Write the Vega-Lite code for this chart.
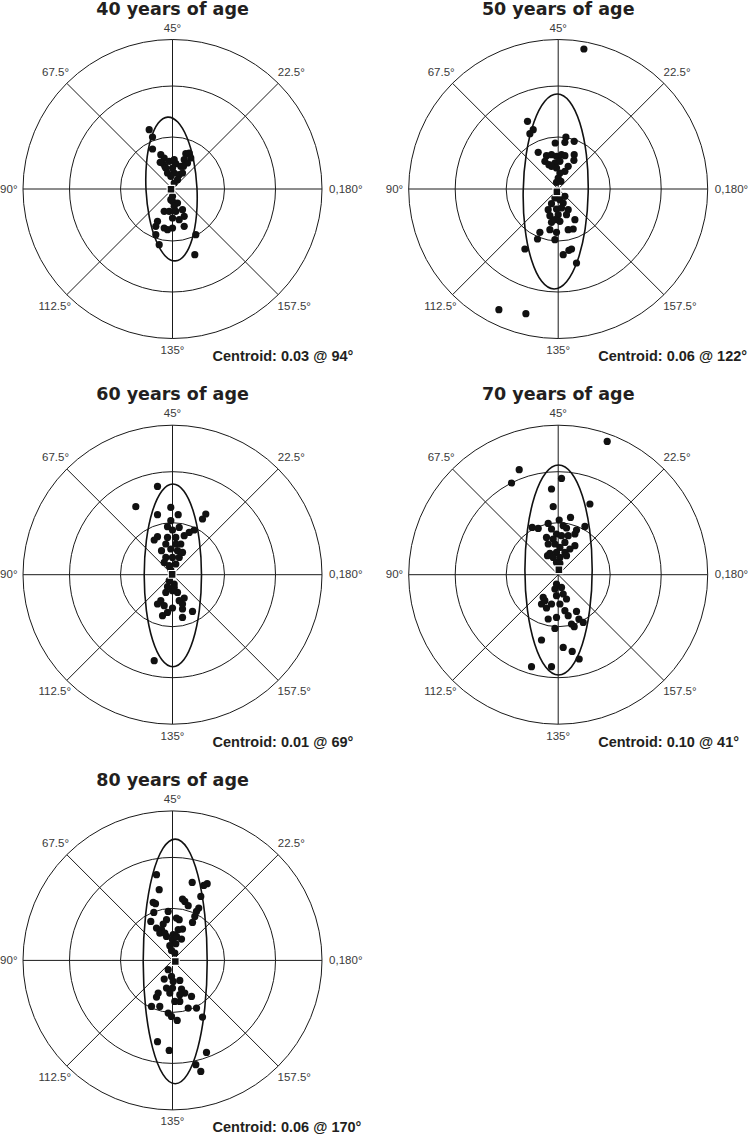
{
"$schema": "https://vega.github.io/schema/vega-lite/v6.json",
"padding": 0,
"background": "white",
"config": {"view": {"stroke": null}},
"bounds": "flush",
"spacing": {"row": 21.7, "column": 22.7},
"data": {"values": [
{"p":1,"k":"r","r":52},{"p":1,"k":"r","r":103},{"p":1,"k":"r","r":149.5},
{"p":2,"k":"r","r":52},{"p":2,"k":"r","r":103},{"p":2,"k":"r","r":149.5},
{"p":3,"k":"r","r":52},{"p":3,"k":"r","r":103},{"p":3,"k":"r","r":149.5},
{"p":4,"k":"r","r":52},{"p":4,"k":"r","r":103},{"p":4,"k":"r","r":149.5},
{"p":5,"k":"r","r":52},{"p":5,"k":"r","r":103},{"p":5,"k":"r","r":149.5},
{"p":1,"k":"s","x":-149.5,"y":0,"x2":149.5,"y2":0},{"p":1,"k":"s","x":0,"y":-149.5,"x2":0,"y2":149.5},{"p":1,"k":"s","x":-105.7,"y":-105.7,"x2":105.7,"y2":105.7},{"p":1,"k":"s","x":-105.7,"y":105.7,"x2":105.7,"y2":-105.7},
{"p":2,"k":"s","x":-149.5,"y":0,"x2":149.5,"y2":0},{"p":2,"k":"s","x":0,"y":-149.5,"x2":0,"y2":149.5},{"p":2,"k":"s","x":-105.7,"y":-105.7,"x2":105.7,"y2":105.7},{"p":2,"k":"s","x":-105.7,"y":105.7,"x2":105.7,"y2":-105.7},
{"p":3,"k":"s","x":-149.5,"y":0,"x2":149.5,"y2":0},{"p":3,"k":"s","x":0,"y":-149.5,"x2":0,"y2":149.5},{"p":3,"k":"s","x":-105.7,"y":-105.7,"x2":105.7,"y2":105.7},{"p":3,"k":"s","x":-105.7,"y":105.7,"x2":105.7,"y2":-105.7},
{"p":4,"k":"s","x":-149.5,"y":0,"x2":149.5,"y2":0},{"p":4,"k":"s","x":0,"y":-149.5,"x2":0,"y2":149.5},{"p":4,"k":"s","x":-105.7,"y":-105.7,"x2":105.7,"y2":105.7},{"p":4,"k":"s","x":-105.7,"y":105.7,"x2":105.7,"y2":-105.7},
{"p":5,"k":"s","x":-149.5,"y":0,"x2":149.5,"y2":0},{"p":5,"k":"s","x":0,"y":-149.5,"x2":0,"y2":149.5},{"p":5,"k":"s","x":-105.7,"y":-105.7,"x2":105.7,"y2":105.7},{"p":5,"k":"s","x":-105.7,"y":105.7,"x2":105.7,"y2":-105.7},
{"p":1,"k":"lc","x":0,"y":157.5,"t":"45°"},{"p":1,"k":"lc","x":0,"y":-165,"t":"135°"},{"p":1,"k":"ll","x":156.6,"y":-3.5,"t":"0,180°"},{"p":1,"k":"ll","x":105.3,"y":113.5,"t":"22.5°"},{"p":1,"k":"ll","x":105,"y":-120.7,"t":"157.5°"},{"p":1,"k":"lr","x":-155,"y":-3.5,"t":"90°"},{"p":1,"k":"lr","x":-103.5,"y":113.5,"t":"67.5°"},{"p":1,"k":"lr","x":-101.5,"y":-120.7,"t":"112.5°"},
{"p":2,"k":"lc","x":0,"y":157.5,"t":"45°"},{"p":2,"k":"lc","x":0,"y":-165,"t":"135°"},{"p":2,"k":"ll","x":156.6,"y":-3.5,"t":"0,180°"},{"p":2,"k":"ll","x":105.3,"y":113.5,"t":"22.5°"},{"p":2,"k":"ll","x":105,"y":-120.7,"t":"157.5°"},{"p":2,"k":"lr","x":-155,"y":-3.5,"t":"90°"},{"p":2,"k":"lr","x":-103.5,"y":113.5,"t":"67.5°"},{"p":2,"k":"lr","x":-101.5,"y":-120.7,"t":"112.5°"},
{"p":3,"k":"lc","x":0,"y":157.5,"t":"45°"},{"p":3,"k":"lc","x":0,"y":-165,"t":"135°"},{"p":3,"k":"ll","x":156.6,"y":-3.5,"t":"0,180°"},{"p":3,"k":"ll","x":105.3,"y":113.5,"t":"22.5°"},{"p":3,"k":"ll","x":105,"y":-120.7,"t":"157.5°"},{"p":3,"k":"lr","x":-155,"y":-3.5,"t":"90°"},{"p":3,"k":"lr","x":-103.5,"y":113.5,"t":"67.5°"},{"p":3,"k":"lr","x":-101.5,"y":-120.7,"t":"112.5°"},
{"p":4,"k":"lc","x":0,"y":157.5,"t":"45°"},{"p":4,"k":"lc","x":0,"y":-165,"t":"135°"},{"p":4,"k":"ll","x":156.6,"y":-3.5,"t":"0,180°"},{"p":4,"k":"ll","x":105.3,"y":113.5,"t":"22.5°"},{"p":4,"k":"ll","x":105,"y":-120.7,"t":"157.5°"},{"p":4,"k":"lr","x":-155,"y":-3.5,"t":"90°"},{"p":4,"k":"lr","x":-103.5,"y":113.5,"t":"67.5°"},{"p":4,"k":"lr","x":-101.5,"y":-120.7,"t":"112.5°"},
{"p":5,"k":"lc","x":0,"y":157.5,"t":"45°"},{"p":5,"k":"lc","x":0,"y":-165,"t":"135°"},{"p":5,"k":"ll","x":156.6,"y":-3.5,"t":"0,180°"},{"p":5,"k":"ll","x":105.3,"y":113.5,"t":"22.5°"},{"p":5,"k":"ll","x":105,"y":-120.7,"t":"157.5°"},{"p":5,"k":"lr","x":-155,"y":-3.5,"t":"90°"},{"p":5,"k":"lr","x":-103.5,"y":113.5,"t":"67.5°"},{"p":5,"k":"lr","x":-101.5,"y":-120.7,"t":"112.5°"},
{"p":1,"k":"t","x":0,"y":174.3,"t":"40 years of age"},{"p":2,"k":"t","x":0,"y":174.3,"t":"50 years of age"},{"p":3,"k":"t","x":0,"y":174.3,"t":"60 years of age"},{"p":4,"k":"t","x":0,"y":174.3,"t":"70 years of age"},{"p":5,"k":"t","x":0,"y":174.3,"t":"80 years of age"},
{"p":1,"k":"c","x":40,"y":-172,"t":"Centroid: 0.03 @ 94°"},{"p":2,"k":"c","x":40,"y":-172,"t":"Centroid: 0.06 @ 122°"},{"p":3,"k":"c","x":40,"y":-172,"t":"Centroid: 0.01 @ 69°"},{"p":4,"k":"c","x":40,"y":-172,"t":"Centroid: 0.10 @ 41°"},{"p":5,"k":"c","x":40,"y":-172,"t":"Centroid: 0.06 @ 170°"},
{"p":1,"k":"m","x":-1.49,"y":-0.21},{"p":2,"k":"m","x":-1.31,"y":-2.7},{"p":3,"k":"m","x":-0.37,"y":0.33},{"p":4,"k":"m","x":0.7,"y":4.95},{"p":5,"k":"m","x":2.82,"y":-1.03},
{"p":1,"k":"e","o":0,"x":24.46,"y":1.33},{"p":1,"k":"e","o":1,"x":21.08,"y":28.75},{"p":1,"k":"e","o":2,"x":14.33,"y":51.78},{"p":1,"k":"e","o":3,"x":5.26,"y":66.94},{"p":1,"k":"e","o":4,"x":-4.77,"y":71.9},{"p":1,"k":"e","o":5,"x":-14.22,"y":65.92},{"p":1,"k":"e","o":6,"x":-21.67,"y":49.9},{"p":1,"k":"e","o":7,"x":-25.96,"y":26.29},{"p":1,"k":"e","o":8,"x":-26.46,"y":-1.33},{"p":1,"k":"e","o":9,"x":-23.08,"y":-28.75},{"p":1,"k":"e","o":10,"x":-16.33,"y":-51.78},{"p":1,"k":"e","o":11,"x":-7.26,"y":-66.94},{"p":1,"k":"e","o":12,"x":2.77,"y":-71.9},{"p":1,"k":"e","o":13,"x":12.22,"y":-65.92},{"p":1,"k":"e","o":14,"x":19.67,"y":-49.9},{"p":1,"k":"e","o":15,"x":23.96,"y":-26.29},
{"p":2,"k":"e","o":0,"x":30,"y":-3.07},{"p":2,"k":"e","o":1,"x":28.18,"y":34.28},{"p":2,"k":"e","o":2,"x":21.68,"y":66.04},{"p":2,"k":"e","o":3,"x":11.51,"y":87.36},{"p":2,"k":"e","o":4,"x":-0.8,"y":95},{"p":2,"k":"e","o":5,"x":-13.37,"y":87.8},{"p":2,"k":"e","o":6,"x":-24.28,"y":66.84},{"p":2,"k":"e","o":7,"x":-31.88,"y":35.34},{"p":2,"k":"e","o":8,"x":-35,"y":-1.93},{"p":2,"k":"e","o":9,"x":-33.18,"y":-39.28},{"p":2,"k":"e","o":10,"x":-26.68,"y":-71.04},{"p":2,"k":"e","o":11,"x":-16.51,"y":-92.36},{"p":2,"k":"e","o":12,"x":-4.2,"y":-100},{"p":2,"k":"e","o":13,"x":8.37,"y":-92.8},{"p":2,"k":"e","o":14,"x":19.28,"y":-71.84},{"p":2,"k":"e","o":15,"x":26.88,"y":-40.34},
{"p":3,"k":"e","o":0,"x":29,"y":-0.65},{"p":3,"k":"e","o":1,"x":26.82,"y":34.31},{"p":3,"k":"e","o":2,"x":20.61,"y":63.94},{"p":3,"k":"e","o":3,"x":11.31,"y":83.75},{"p":3,"k":"e","o":4,"x":0.35,"y":90.7},{"p":3,"k":"e","o":5,"x":-10.61,"y":83.75},{"p":3,"k":"e","o":6,"x":-19.91,"y":63.94},{"p":3,"k":"e","o":7,"x":-26.12,"y":34.31},{"p":3,"k":"e","o":8,"x":-28.3,"y":-0.65},{"p":3,"k":"e","o":9,"x":-26.12,"y":-35.61},{"p":3,"k":"e","o":10,"x":-19.91,"y":-65.24},{"p":3,"k":"e","o":11,"x":-10.61,"y":-85.05},{"p":3,"k":"e","o":12,"x":0.35,"y":-92},{"p":3,"k":"e","o":13,"x":11.31,"y":-85.05},{"p":3,"k":"e","o":14,"x":20.61,"y":-65.24},{"p":3,"k":"e","o":15,"x":26.82,"y":-35.61},
{"p":4,"k":"e","o":0,"x":34,"y":4.7},{"p":4,"k":"e","o":1,"x":31.44,"y":44.88},{"p":4,"k":"e","o":2,"x":24.14,"y":78.95},{"p":4,"k":"e","o":3,"x":13.23,"y":101.71},{"p":4,"k":"e","o":4,"x":0.35,"y":109.7},{"p":4,"k":"e","o":5,"x":-12.53,"y":101.71},{"p":4,"k":"e","o":6,"x":-23.44,"y":78.95},{"p":4,"k":"e","o":7,"x":-30.74,"y":44.88},{"p":4,"k":"e","o":8,"x":-33.3,"y":4.7},{"p":4,"k":"e","o":9,"x":-30.74,"y":-35.48},{"p":4,"k":"e","o":10,"x":-23.44,"y":-69.55},{"p":4,"k":"e","o":11,"x":-12.53,"y":-92.31},{"p":4,"k":"e","o":12,"x":0.35,"y":-100.3},{"p":4,"k":"e","o":13,"x":13.23,"y":-92.31},{"p":4,"k":"e","o":14,"x":24.14,"y":-69.55},{"p":4,"k":"e","o":15,"x":31.44,"y":-35.48},
{"p":5,"k":"e","o":0,"x":34.7,"y":-1},{"p":5,"k":"e","o":1,"x":32.26,"y":45.8},{"p":5,"k":"e","o":2,"x":25.33,"y":85.48},{"p":5,"k":"e","o":3,"x":14.95,"y":111.99},{"p":5,"k":"e","o":4,"x":2.7,"y":121.3},{"p":5,"k":"e","o":5,"x":-9.55,"y":111.99},{"p":5,"k":"e","o":6,"x":-19.93,"y":85.48},{"p":5,"k":"e","o":7,"x":-26.86,"y":45.8},{"p":5,"k":"e","o":8,"x":-29.3,"y":-1},{"p":5,"k":"e","o":9,"x":-26.86,"y":-47.8},{"p":5,"k":"e","o":10,"x":-19.93,"y":-87.48},{"p":5,"k":"e","o":11,"x":-9.55,"y":-113.99},{"p":5,"k":"e","o":12,"x":2.7,"y":-123.3},{"p":5,"k":"e","o":13,"x":14.95,"y":-113.99},{"p":5,"k":"e","o":14,"x":25.33,"y":-87.48},{"p":5,"k":"e","o":15,"x":32.26,"y":-47.8},
{"p":1,"k":"d","x":-23.3,"y":59.3},{"p":1,"k":"d","x":-20,"y":52},{"p":1,"k":"d","x":-20,"y":40},{"p":1,"k":"d","x":-11.7,"y":34.3},{"p":1,"k":"d","x":-8.3,"y":31},{"p":1,"k":"d","x":-10,"y":26},{"p":1,"k":"d","x":-7.7,"y":22.7},{"p":1,"k":"d","x":-3.3,"y":27.7},{"p":1,"k":"d","x":1.7,"y":29.3},{"p":1,"k":"d","x":3.3,"y":25.3},{"p":1,"k":"d","x":0,"y":21},{"p":1,"k":"d","x":1.7,"y":16},{"p":1,"k":"d","x":6.7,"y":14.3},{"p":1,"k":"d","x":10,"y":16},{"p":1,"k":"d","x":8.3,"y":22.7},{"p":1,"k":"d","x":11.7,"y":29.3},{"p":1,"k":"d","x":13.3,"y":35.3},{"p":1,"k":"d","x":16.7,"y":36},{"p":1,"k":"d","x":18.3,"y":31},{"p":1,"k":"d","x":15,"y":26},{"p":1,"k":"d","x":11,"y":22.7},{"p":1,"k":"d","x":5,"y":9.3},{"p":1,"k":"d","x":1.7,"y":6},{"p":1,"k":"d","x":-1.7,"y":12.7},{"p":1,"k":"d","x":-6.7,"y":21},{"p":1,"k":"d","x":-5,"y":16},{"p":1,"k":"d","x":-12.3,"y":26.7},
{"p":1,"k":"d","x":0,"y":-7.3},{"p":1,"k":"d","x":-1.7,"y":-10.7},{"p":1,"k":"d","x":0,"y":-12.3},{"p":1,"k":"d","x":5,"y":-14},{"p":1,"k":"d","x":1.7,"y":-17.3},{"p":1,"k":"d","x":-8.3,"y":-22.3},{"p":1,"k":"d","x":-3.3,"y":-22.3},{"p":1,"k":"d","x":3.3,"y":-22.3},{"p":1,"k":"d","x":10,"y":-20.7},{"p":1,"k":"d","x":11.7,"y":-27.3},{"p":1,"k":"d","x":6.7,"y":-30.7},{"p":1,"k":"d","x":0,"y":-29},{"p":1,"k":"d","x":-15,"y":-32.3},{"p":1,"k":"d","x":-16.7,"y":-37.3},{"p":1,"k":"d","x":-8.3,"y":-39},{"p":1,"k":"d","x":-5,"y":-40.7},{"p":1,"k":"d","x":0,"y":-39},{"p":1,"k":"d","x":11.7,"y":-37.3},{"p":1,"k":"d","x":-16.7,"y":-45.7},{"p":1,"k":"d","x":-13.3,"y":-55.7},{"p":1,"k":"d","x":23.3,"y":-45.7},{"p":1,"k":"d","x":22.3,"y":-65.7},
{"p":2,"k":"d","x":25.7,"y":140},{"p":2,"k":"d","x":-30.7,"y":67.7},{"p":2,"k":"d","x":-25,"y":59.3},{"p":2,"k":"d","x":-28.3,"y":55.3},{"p":2,"k":"d","x":7.7,"y":52},{"p":2,"k":"d","x":16,"y":47.7},{"p":2,"k":"d","x":6.7,"y":46.7},{"p":2,"k":"d","x":-3,"y":46},{"p":2,"k":"d","x":-20,"y":36.7},{"p":2,"k":"d","x":-11.7,"y":33.3},{"p":2,"k":"d","x":-6.7,"y":34.3},{"p":2,"k":"d","x":-1.7,"y":32.7},{"p":2,"k":"d","x":3.3,"y":34.3},{"p":2,"k":"d","x":6.7,"y":33.3},{"p":2,"k":"d","x":16,"y":34.3},{"p":2,"k":"d","x":15.7,"y":28.7},{"p":2,"k":"d","x":-13.3,"y":27.7},{"p":2,"k":"d","x":-9.3,"y":24.3},{"p":2,"k":"d","x":-3.3,"y":26},{"p":2,"k":"d","x":1.7,"y":27.7},{"p":2,"k":"d","x":10,"y":22.7},{"p":2,"k":"d","x":6.7,"y":17.7},{"p":2,"k":"d","x":1.7,"y":16},{"p":2,"k":"d","x":-1.7,"y":21},{"p":2,"k":"d","x":0,"y":11},{"p":2,"k":"d","x":-1.7,"y":6.7},{"p":2,"k":"d","x":2.7,"y":7.7},{"p":2,"k":"d","x":-6.7,"y":22.7},
{"p":2,"k":"d","x":-3.3,"y":-9},{"p":2,"k":"d","x":1.7,"y":-10.7},{"p":2,"k":"d","x":5,"y":-14},{"p":2,"k":"d","x":-6.7,"y":-14.7},{"p":2,"k":"d","x":-10,"y":-20.7},{"p":2,"k":"d","x":-1.7,"y":-20},{"p":2,"k":"d","x":3.3,"y":-19},{"p":2,"k":"d","x":10,"y":-20.7},{"p":2,"k":"d","x":-8.3,"y":-26.7},{"p":2,"k":"d","x":0,"y":-25.7},{"p":2,"k":"d","x":8.3,"y":-25.7},{"p":2,"k":"d","x":16.7,"y":-30.7},{"p":2,"k":"d","x":-6.7,"y":-33.3},{"p":2,"k":"d","x":1.7,"y":-32.3},{"p":2,"k":"d","x":-8.3,"y":-40.7},{"p":2,"k":"d","x":-1.7,"y":-43.3},{"p":2,"k":"d","x":-18.3,"y":-43.3},{"p":2,"k":"d","x":10,"y":-40.7},{"p":2,"k":"d","x":15,"y":-40},{"p":2,"k":"d","x":-20.7,"y":-50},{"p":2,"k":"d","x":-3.3,"y":-50.7},{"p":2,"k":"d","x":-33.3,"y":-60},{"p":2,"k":"d","x":5,"y":-65.7},{"p":2,"k":"d","x":10.7,"y":-61.3},{"p":2,"k":"d","x":13.3,"y":-60},{"p":2,"k":"d","x":18.3,"y":-74},{"p":2,"k":"d","x":-59.3,"y":-120.7},{"p":2,"k":"d","x":-32.3,"y":-124.7},{"p":2,"k":"d","x":-3.3,"y":-30.7},{"p":2,"k":"d","x":6.7,"y":-7.3},
{"p":3,"k":"d","x":-15,"y":88.3},{"p":3,"k":"d","x":-36.7,"y":68},{"p":3,"k":"d","x":-1.7,"y":67.3},{"p":3,"k":"d","x":-15,"y":60},{"p":3,"k":"d","x":5.7,"y":60},{"p":3,"k":"d","x":33.3,"y":60.7},{"p":3,"k":"d","x":30,"y":55.7},{"p":3,"k":"d","x":-1.7,"y":54},{"p":3,"k":"d","x":-5,"y":48},{"p":3,"k":"d","x":6.7,"y":47.3},{"p":3,"k":"d","x":0,"y":44.7},{"p":3,"k":"d","x":21.7,"y":44.7},{"p":3,"k":"d","x":16.7,"y":42.3},{"p":3,"k":"d","x":11.7,"y":39},{"p":3,"k":"d","x":-15,"y":38},{"p":3,"k":"d","x":-18.3,"y":34.7},{"p":3,"k":"d","x":-5,"y":37.3},{"p":3,"k":"d","x":3.3,"y":37.3},{"p":3,"k":"d","x":-6.7,"y":30.7},{"p":3,"k":"d","x":3.3,"y":30.7},{"p":3,"k":"d","x":8.3,"y":30.7},{"p":3,"k":"d","x":-11,"y":24},{"p":3,"k":"d","x":-1.7,"y":25.7},{"p":3,"k":"d","x":5,"y":24},{"p":3,"k":"d","x":10,"y":22.3},{"p":3,"k":"d","x":-6.7,"y":17.3},{"p":3,"k":"d","x":0,"y":17.3},{"p":3,"k":"d","x":6.7,"y":17.3},{"p":3,"k":"d","x":-8.3,"y":12.3},{"p":3,"k":"d","x":-3.3,"y":9},{"p":3,"k":"d","x":3.3,"y":10.7},{"p":3,"k":"d","x":-1.7,"y":4.7},
{"p":3,"k":"d","x":-3.3,"y":-6},{"p":3,"k":"d","x":1.7,"y":-9.3},{"p":3,"k":"d","x":-5,"y":-12},{"p":3,"k":"d","x":-6.7,"y":-17.7},{"p":3,"k":"d","x":0,"y":-16},{"p":3,"k":"d","x":5,"y":-17.7},{"p":3,"k":"d","x":11.7,"y":-23.3},{"p":3,"k":"d","x":6.7,"y":-26},{"p":3,"k":"d","x":-11.7,"y":-26},{"p":3,"k":"d","x":-15,"y":-29.3},{"p":3,"k":"d","x":-8.3,"y":-31},{"p":3,"k":"d","x":0,"y":-33.3},{"p":3,"k":"d","x":10,"y":-34.3},{"p":3,"k":"d","x":20,"y":-36.7},{"p":3,"k":"d","x":-10,"y":-41},{"p":3,"k":"d","x":-5,"y":-37.7},{"p":3,"k":"d","x":10,"y":-42.7},{"p":3,"k":"d","x":10,"y":-29.3},{"p":3,"k":"d","x":-18.3,"y":-86},{"p":3,"k":"d","x":1.7,"y":-12.7},
{"p":4,"k":"d","x":49,"y":133.3},{"p":4,"k":"d","x":-39,"y":105},{"p":4,"k":"d","x":-46.7,"y":91.7},{"p":4,"k":"d","x":3.3,"y":96.3},{"p":4,"k":"d","x":-6.7,"y":85.7},{"p":4,"k":"d","x":-5,"y":68},{"p":4,"k":"d","x":31.7,"y":70.7},{"p":4,"k":"d","x":12.3,"y":57.3},{"p":4,"k":"d","x":1,"y":54.7},{"p":4,"k":"d","x":-10,"y":51.3},{"p":4,"k":"d","x":-26,"y":47.3},{"p":4,"k":"d","x":-20,"y":46.3},{"p":4,"k":"d","x":-6.7,"y":45.7},{"p":4,"k":"d","x":5,"y":49},{"p":4,"k":"d","x":8.3,"y":46.7},{"p":4,"k":"d","x":18.3,"y":44.7},{"p":4,"k":"d","x":26.7,"y":48.3},{"p":4,"k":"d","x":-1.7,"y":40.7},{"p":4,"k":"d","x":-11.7,"y":37.3},{"p":4,"k":"d","x":3.3,"y":39},{"p":4,"k":"d","x":10,"y":39},{"p":4,"k":"d","x":16.7,"y":40.7},{"p":4,"k":"d","x":-5,"y":35.7},{"p":4,"k":"d","x":6.7,"y":32.3},{"p":4,"k":"d","x":16.7,"y":29},{"p":4,"k":"d","x":-10,"y":30.7},{"p":4,"k":"d","x":-3.3,"y":30.7},{"p":4,"k":"d","x":1.7,"y":27.3},{"p":4,"k":"d","x":11.7,"y":25.7},{"p":4,"k":"d","x":-8.3,"y":21.3},{"p":4,"k":"d","x":-1.7,"y":22.3},{"p":4,"k":"d","x":6.7,"y":22.3},{"p":4,"k":"d","x":-10.7,"y":19},{"p":4,"k":"d","x":-5,"y":17.3},{"p":4,"k":"d","x":1.7,"y":17.3},{"p":4,"k":"d","x":8.3,"y":19},{"p":4,"k":"d","x":-1.7,"y":12.3},{"p":4,"k":"d","x":1.7,"y":11.3},
{"p":4,"k":"d","x":-1.7,"y":-9.3},{"p":4,"k":"d","x":-3.3,"y":-14.3},{"p":4,"k":"d","x":3.3,"y":-12.7},{"p":4,"k":"d","x":5,"y":-19.3},{"p":4,"k":"d","x":-1.7,"y":-21},{"p":4,"k":"d","x":8.3,"y":-24.3},{"p":4,"k":"d","x":-15,"y":-22.7},{"p":4,"k":"d","x":-16.7,"y":-29.3},{"p":4,"k":"d","x":-11.7,"y":-33.3},{"p":4,"k":"d","x":1.7,"y":-29.3},{"p":4,"k":"d","x":6.7,"y":-36},{"p":4,"k":"d","x":-6.7,"y":-29.3},{"p":4,"k":"d","x":18.3,"y":-36.7},{"p":4,"k":"d","x":-10,"y":-44.3},{"p":4,"k":"d","x":-1.7,"y":-42.7},{"p":4,"k":"d","x":10,"y":-41},{"p":4,"k":"d","x":13.3,"y":-49.3},{"p":4,"k":"d","x":16,"y":-52},{"p":4,"k":"d","x":25,"y":-47.7},{"p":4,"k":"d","x":20.7,"y":-44.3},{"p":4,"k":"d","x":-3.3,"y":-53.7},{"p":4,"k":"d","x":-16.7,"y":-65.3},{"p":4,"k":"d","x":5,"y":-72.7},{"p":4,"k":"d","x":14,"y":-76.7},{"p":4,"k":"d","x":21,"y":-84.3},{"p":4,"k":"d","x":-26.7,"y":-92},{"p":4,"k":"d","x":-6.7,"y":-92},{"p":4,"k":"d","x":-13.3,"y":-26},
{"p":5,"k":"d","x":-16,"y":85.7},{"p":5,"k":"d","x":19.7,"y":78},{"p":5,"k":"d","x":34.7,"y":76.7},{"p":5,"k":"d","x":31.3,"y":75},{"p":5,"k":"d","x":-13.3,"y":70.7},{"p":5,"k":"d","x":28.3,"y":64},{"p":5,"k":"d","x":10,"y":61.3},{"p":5,"k":"d","x":12.3,"y":59},{"p":5,"k":"d","x":-19.3,"y":58},{"p":5,"k":"d","x":-17,"y":56.7},{"p":5,"k":"d","x":15.7,"y":54.7},{"p":5,"k":"d","x":26.3,"y":52.3},{"p":5,"k":"d","x":24,"y":49},{"p":5,"k":"d","x":-4.3,"y":49},{"p":5,"k":"d","x":-18.7,"y":48},{"p":5,"k":"d","x":22.3,"y":44},{"p":5,"k":"d","x":4,"y":42.3},{"p":5,"k":"d","x":6.7,"y":40.7},{"p":5,"k":"d","x":-6,"y":40.7},{"p":5,"k":"d","x":-21.7,"y":39},{"p":5,"k":"d","x":20,"y":38},{"p":5,"k":"d","x":-9.3,"y":36.3},{"p":5,"k":"d","x":-16,"y":32.3},{"p":5,"k":"d","x":-11,"y":30.7},{"p":5,"k":"d","x":10,"y":31.3},{"p":5,"k":"d","x":5.7,"y":30.7},{"p":5,"k":"d","x":-12.7,"y":27.3},{"p":5,"k":"d","x":-6,"y":24},{"p":5,"k":"d","x":0.7,"y":25.7},{"p":5,"k":"d","x":9,"y":21.3},{"p":5,"k":"d","x":0,"y":20.7},{"p":5,"k":"d","x":3.3,"y":16.7},{"p":5,"k":"d","x":-2.7,"y":14.7},{"p":5,"k":"d","x":-1,"y":10},{"p":5,"k":"d","x":2.3,"y":7.3},{"p":5,"k":"d","x":-7.7,"y":27.3},{"p":5,"k":"d","x":4,"y":24},
{"p":5,"k":"d","x":-4.3,"y":-9.3},{"p":5,"k":"d","x":-8.3,"y":-18.7},{"p":5,"k":"d","x":-1,"y":-16},{"p":5,"k":"d","x":0.7,"y":-21},{"p":5,"k":"d","x":-6,"y":-27.7},{"p":5,"k":"d","x":0,"y":-27.7},{"p":5,"k":"d","x":7.3,"y":-20},{"p":5,"k":"d","x":9,"y":-28.7},{"p":5,"k":"d","x":12.3,"y":-32.7},{"p":5,"k":"d","x":7.3,"y":-34.3},{"p":5,"k":"d","x":19,"y":-36},{"p":5,"k":"d","x":-16,"y":-36.7},{"p":5,"k":"d","x":-14.3,"y":-32.7},{"p":5,"k":"d","x":2.3,"y":-41},{"p":5,"k":"d","x":7.3,"y":-41},{"p":5,"k":"d","x":15.7,"y":-47.7},{"p":5,"k":"d","x":24,"y":-47.7},{"p":5,"k":"d","x":-12.7,"y":-46},{"p":5,"k":"d","x":-21,"y":-46},{"p":5,"k":"d","x":-4.3,"y":-52.7},{"p":5,"k":"d","x":-1,"y":-56},{"p":5,"k":"d","x":4.7,"y":-60},{"p":5,"k":"d","x":30,"y":-56.7},{"p":5,"k":"d","x":-15,"y":-81.3},{"p":5,"k":"d","x":-3.3,"y":-90},{"p":5,"k":"d","x":34,"y":-92},{"p":5,"k":"d","x":23.3,"y":-104.3},{"p":5,"k":"d","x":28.3,"y":-111},{"p":5,"k":"d","x":-2.7,"y":-32.7}
]},
"transform": [
  {"calculate": "(datum.p - 1) % 2", "as": "col"},
  {"calculate": "floor((datum.p - 1) / 2)", "as": "row"}
],
"facet": {
  "row": {"field": "row", "type": "ordinal", "title": null, "header": {"labels": false, "title": null, "labelPadding": 0, "titlePadding": 0}},
  "column": {"field": "col", "type": "ordinal", "title": null, "header": {"labels": false, "title": null, "labelPadding": 0, "titlePadding": 0}}
},
"spec": {
  "width": 363,
  "height": 364,
  "layer": [
    {"transform": [{"filter": "datum.k === 'r'"}],
     "mark": {"type": "point", "shape": "circle", "filled": false, "color": "#1a1a1a", "strokeWidth": 1, "opacity": 1},
     "encoding": {
       "x": {"datum": 0, "type": "quantitative", "scale": {"domain": [-172.5, 190.5], "nice": false, "zero": false}, "axis": null},
       "y": {"datum": 0, "type": "quantitative", "scale": {"domain": [-175, 189], "nice": false, "zero": false}, "axis": null},
       "size": {"field": "r", "type": "quantitative", "legend": null, "scale": {"type": "pow", "exponent": 2, "domain": [0, 150], "range": [0, 90000], "zero": true}}
     }},
    {"transform": [{"filter": "datum.k === 's'"}],
     "mark": {"type": "rule", "color": "#1a1a1a", "strokeWidth": 1},
     "encoding": {
       "x": {"field": "x", "type": "quantitative", "scale": {"domain": [-172.5, 190.5], "nice": false, "zero": false}, "axis": null},
       "y": {"field": "y", "type": "quantitative", "scale": {"domain": [-175, 189], "nice": false, "zero": false}, "axis": null},
       "x2": {"field": "x2"},
       "y2": {"field": "y2"}
     }},
    {"transform": [{"filter": "datum.k === 'e'"}],
     "mark": {"type": "line", "interpolate": "cardinal-closed", "color": "#111111", "strokeWidth": 1.6},
     "encoding": {
       "x": {"field": "x", "type": "quantitative", "scale": {"domain": [-172.5, 190.5], "nice": false, "zero": false}, "axis": null},
       "y": {"field": "y", "type": "quantitative", "scale": {"domain": [-175, 189], "nice": false, "zero": false}, "axis": null},
       "order": {"field": "o", "type": "quantitative"}
     }},
    {"transform": [{"filter": "datum.k === 'd'"}],
     "mark": {"type": "point", "shape": "circle", "filled": true, "color": "#111111", "opacity": 1, "size": 52},
     "encoding": {
       "x": {"field": "x", "type": "quantitative", "scale": {"domain": [-172.5, 190.5], "nice": false, "zero": false}, "axis": null},
       "y": {"field": "y", "type": "quantitative", "scale": {"domain": [-175, 189], "nice": false, "zero": false}, "axis": null}
     }},
    {"transform": [{"filter": "datum.k === 'm'"}],
     "mark": {"type": "point", "shape": "square", "filled": true, "fill": "#111111", "stroke": "white", "strokeWidth": 1.2, "opacity": 1, "size": 60},
     "encoding": {
       "x": {"field": "x", "type": "quantitative", "scale": {"domain": [-172.5, 190.5], "nice": false, "zero": false}, "axis": null},
       "y": {"field": "y", "type": "quantitative", "scale": {"domain": [-175, 189], "nice": false, "zero": false}, "axis": null}
     }},
    {"transform": [{"filter": "datum.k === 'lc'"}],
     "mark": {"type": "text", "align": "center", "baseline": "alphabetic", "font": "Liberation Sans", "fontSize": 11.5, "color": "#3a3a3a"},
     "encoding": {
       "x": {"field": "x", "type": "quantitative", "scale": {"domain": [-172.5, 190.5], "nice": false, "zero": false}, "axis": null},
       "y": {"field": "y", "type": "quantitative", "scale": {"domain": [-175, 189], "nice": false, "zero": false}, "axis": null},
       "text": {"field": "t"}
     }},
    {"transform": [{"filter": "datum.k === 'll'"}],
     "mark": {"type": "text", "align": "left", "baseline": "alphabetic", "font": "Liberation Sans", "fontSize": 11.5, "color": "#3a3a3a"},
     "encoding": {
       "x": {"field": "x", "type": "quantitative", "scale": {"domain": [-172.5, 190.5], "nice": false, "zero": false}, "axis": null},
       "y": {"field": "y", "type": "quantitative", "scale": {"domain": [-175, 189], "nice": false, "zero": false}, "axis": null},
       "text": {"field": "t"}
     }},
    {"transform": [{"filter": "datum.k === 'lr'"}],
     "mark": {"type": "text", "align": "right", "baseline": "alphabetic", "font": "Liberation Sans", "fontSize": 11.5, "color": "#3a3a3a"},
     "encoding": {
       "x": {"field": "x", "type": "quantitative", "scale": {"domain": [-172.5, 190.5], "nice": false, "zero": false}, "axis": null},
       "y": {"field": "y", "type": "quantitative", "scale": {"domain": [-175, 189], "nice": false, "zero": false}, "axis": null},
       "text": {"field": "t"}
     }},
    {"transform": [{"filter": "datum.k === 't'"}],
     "mark": {"type": "text", "align": "center", "baseline": "alphabetic", "font": "DejaVu Sans", "fontWeight": "bold", "fontSize": 17.5, "color": "#231f20"},
     "encoding": {
       "x": {"field": "x", "type": "quantitative", "scale": {"domain": [-172.5, 190.5], "nice": false, "zero": false}, "axis": null},
       "y": {"field": "y", "type": "quantitative", "scale": {"domain": [-175, 189], "nice": false, "zero": false}, "axis": null},
       "text": {"field": "t"}
     }},
    {"transform": [{"filter": "datum.k === 'c'"}],
     "mark": {"type": "text", "align": "left", "baseline": "alphabetic", "font": "Liberation Sans", "fontWeight": "bold", "fontSize": 14.5, "color": "#231f20"},
     "encoding": {
       "x": {"field": "x", "type": "quantitative", "scale": {"domain": [-172.5, 190.5], "nice": false, "zero": false}, "axis": null},
       "y": {"field": "y", "type": "quantitative", "scale": {"domain": [-175, 189], "nice": false, "zero": false}, "axis": null},
       "text": {"field": "t"}
     }}
  ]
}
}
